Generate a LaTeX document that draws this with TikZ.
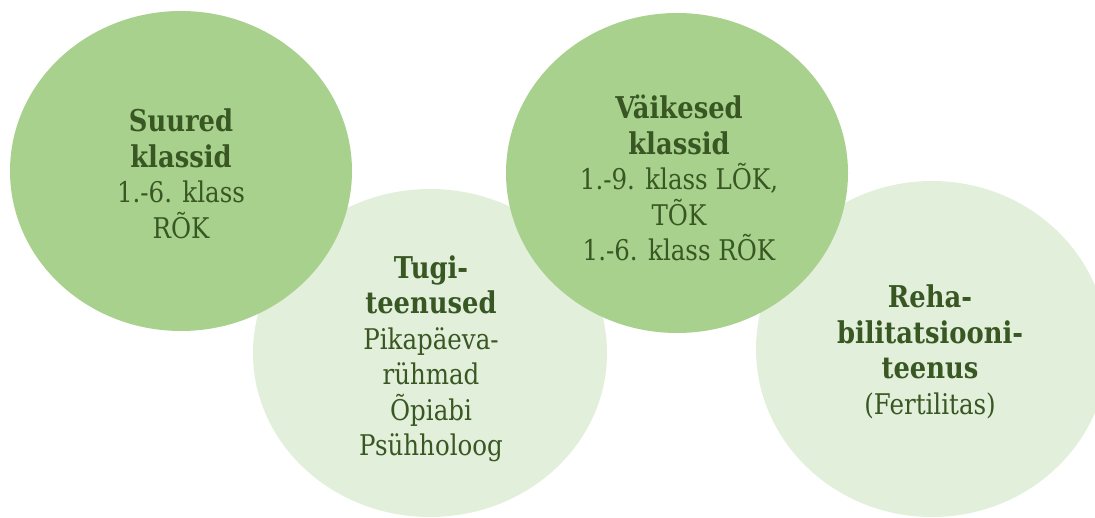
\documentclass[tikz,border=0pt]{standalone}
\usepackage{fontspec}
\setmainfont{DejaVu Serif}[FakeStretch=0.86]
\usepackage{tikz}
\usetikzlibrary{shapes.geometric}

\definecolor{darkfill}{HTML}{A9D18E}
\definecolor{lightfill}{HTML}{E2EFDA}
\definecolor{textgreen}{HTML}{385723}

\newcommand{\headline}[1]{{\fontsize{30}{35.5}\selectfont\bfseries #1}}

\begin{document}
\begin{tikzpicture}[x=1pt,y=-1pt,
  big/.style={ellipse,fill=darkfill,draw=none,minimum width=342pt,minimum height=320pt,inner sep=0pt},
  pale/.style={ellipse,fill=lightfill,draw=none,minimum width=354pt,minimum height=328pt,inner sep=0pt},
  label/.style={align=center,text=textgreen,font=\fontsize{28.5}{35.5}\selectfont,inner sep=0pt}]
      \useasboundingbox (0,0) rectangle (1095,518);

      % pale ones lie underneath
      \node [pale] (B1) at (430,353){};
      \node [pale,minimum width=352pt,minimum height=336pt] (B2) at (932,349){};
      \node [big] (A1) at (181,171){};
      \node [big] (A2) at (677,173){};

      \node [label] (T1) at (181,174){\headline{Suured}\\\headline{klassid}\\1.-6. klass\\RÕK};
      \node [label] (T2) at (431,359){\headline{Tugi-}\\\headline{teenused}\\Pikapäeva-\\rühmad\\Õpiabi\\Psühholoog};
      \node [label] (T3) at (679,178){\headline{Väikesed}\\\headline{klassid}\\1.-9. klass LÕK,\\TÕK\\1.-6. klass RÕK};
      \node [label] (T4) at (930,352){\headline{Reha-}\\\headline{bilitatsiooni-}\\\headline{teenus}\\(Fertilitas)};

  \end{tikzpicture}
\end{document}
